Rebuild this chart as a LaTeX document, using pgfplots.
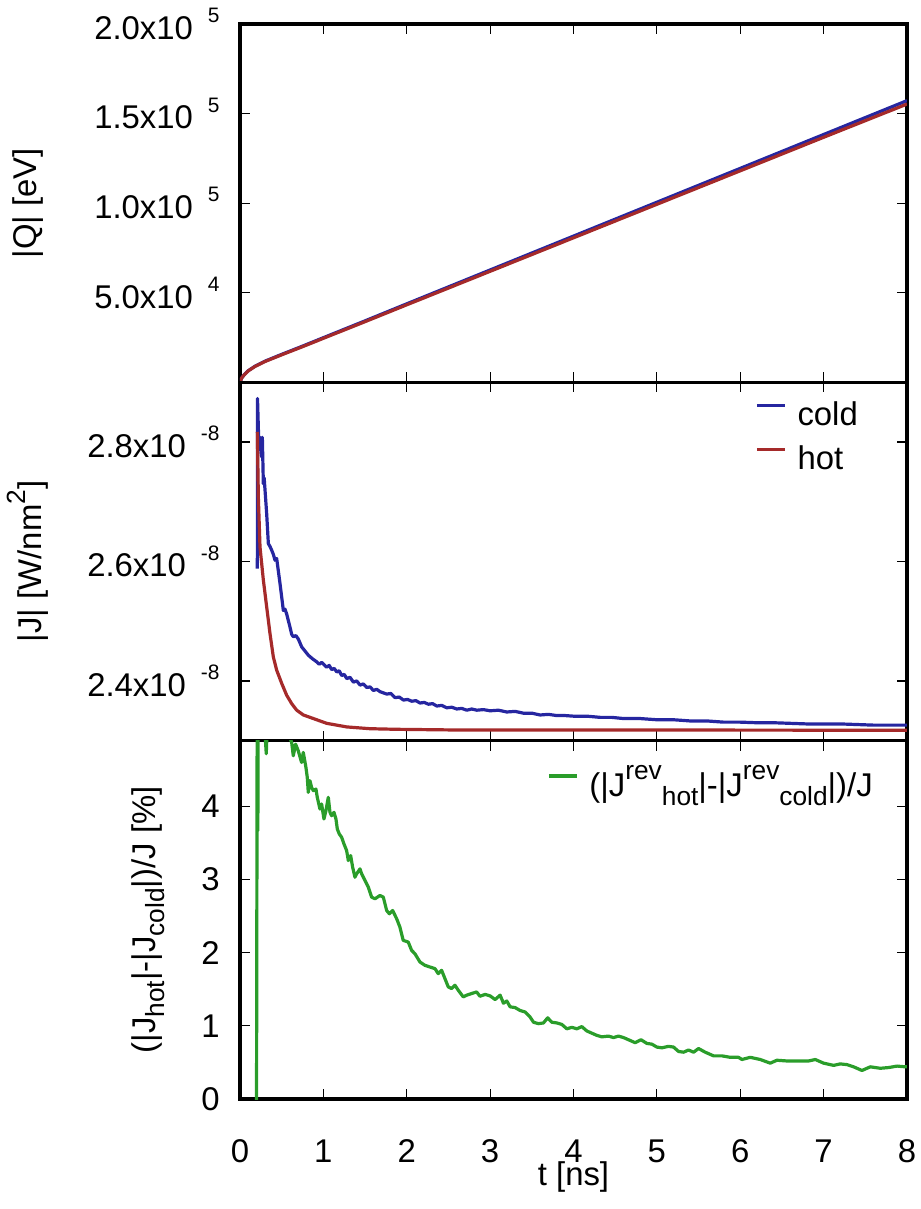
\documentclass[border=0pt]{standalone}
\usepackage{fontspec}
\setmainfont{Liberation Sans}
\usepackage{pgfplots}
\pgfplotsset{compat=1.18}

\definecolor{cCold}{HTML}{2626A0}
\definecolor{cHot}{HTML}{A52A2A}
\definecolor{cDiff}{HTML}{2A9D2A}

\newcommand{\MainFont}{\fontsize{16.5}{20}\selectfont}
% gnuplot-like "2.0x10 5" tick labels
\newcommand{\sci}[2]{#1x10\hspace{7.5bp}\raisebox{8.3bp}{\fontsize{10.5}{12}\selectfont #2}}
\newcommand{\Sup}[1]{\raisebox{8.3bp}{\fontsize{13.2}{14}\selectfont #1}}
\newcommand{\Sub}[1]{\raisebox{-4.5bp}{\fontsize{13.2}{14}\selectfont #1}}

\pgfplotsset{
  panel/.style={
    scale only axis, width=333.5bp, height=179.17bp,
    xmin=0, xmax=8, xtick={0,...,8},
    scaled y ticks=false,
    axis line style={line width=1.7bp},
    every tick/.style={black, line width=0.6bp},
    major tick length=5bp,
    tick label style={font=\MainFont, inner sep=0pt},
    xticklabel shift=20bp,
    yticklabel shift=10bp,
    /pgf/number format/assume math mode=true,
    every axis plot/.append style={line width=1.6bp, line join=round},
    legend cell align=left,
    legend image code/.code={\draw[##1] (0bp,5.8bp) -- (14bp,5.8bp);},
    legend style={draw=none, fill=none, inner sep=0pt, row sep=7bp,
      anchor=north west,
      nodes={inner xsep=5.5bp, inner ysep=0pt, text height=12bp,
             text depth=3bp, font=\MainFont}},
  },
}

\begin{document}
\begin{tikzpicture}
\path[use as bounding box] (-120bp,-55bp) rectangle (340.5bp,549.5bp);

% ---- top: accumulated heat -------------------------------------------
\begin{axis}[panel, at={(0,358.34bp)}, anchor=south west,
  ymin=0, ymax=2e5,
  ytick={5e4,1e5,1.5e5,2e5},
  yticklabels={\sci{5.0}{4},\sci{1.0}{5},\sci{1.5}{5},\sci{2.0}{5}},
  xticklabels={},
]
\addplot[cCold] coordinates {
 (0,0) (0.02,2400) (0.05,4200) (0.1,6500) (0.18,9000) (0.3,11800)
 (0.5,15600) (0.74,20000) (1.0,24900) (1.5,34300) (2,43800) (3,62700)
 (4,81600) (5,100500) (6,119400) (7,138300) (8,157200)};
\addplot[cHot] coordinates {
 (0,0) (0.02,2400) (0.05,4150) (0.1,6400) (0.18,8850) (0.3,11600)
 (0.5,15350) (0.74,19700) (1.0,24550) (1.5,33850) (2,43250) (3,61950)
 (4,80650) (5,99350) (6,118050) (7,136750) (8,155300)};
\end{axis}

% ---- middle: heat flux -----------------------------------------------
\begin{axis}[panel, at={(0,179.17bp)}, anchor=south west,
  ymin=2.3e-8, ymax=2.9e-8,
  ytick={2.4e-8,2.6e-8,2.8e-8},
  yticklabels={\sci{2.4}{-8},\sci{2.6}{-8},\sci{2.8}{-8}},
  xticklabels={},
  legend style={at={(axis description cs:0.772,0.947)}},
]
\addplot[cCold] coordinates {
 (0.208,2.588e-8) (0.210,2.873e-8) (0.225,2.800e-8) (0.240,2.808e-8)
 (0.250,2.790e-8) (0.260,2.775e-8) (0.268,2.808e-8) (0.280,2.730e-8)
 (0.290,2.740e-8) (0.320,2.680e-8) (0.340,2.630e-8) (0.360,2.625e-8)
 (0.380,2.619e-8) (0.400,2.612e-8) (0.420,2.602e-8) (0.440,2.605e-8)
 (0.480,2.563e-8) (0.520,2.518e-8) (0.540,2.520e-8) (0.560,2.512e-8)
 (0.600,2.490e-8) (0.620,2.478e-8) (0.640,2.474e-8) (0.670,2.476e-8)
 (0.700,2.470e-8) (0.740,2.457e-8) (0.780,2.450e-8) (0.820,2.443e-8)
 (0.870,2.437e-8) (0.920,2.432e-8) (0.950,2.428e-8) (0.980,2.431e-8)
 (1.04,2.423e-8) (1.07,2.426e-8) (1.10,2.419e-8) (1.13,2.421e-8)
 (1.16,2.415e-8) (1.19,2.417e-8) (1.22,2.409e-8) (1.25,2.411e-8)
 (1.28,2.404e-8) (1.32,2.406e-8) (1.36,2.398e-8) (1.40,2.400e-8)
 (1.44,2.393e-8) (1.48,2.395e-8) (1.52,2.389e-8) (1.56,2.390e-8)
 (1.60,2.384e-8) (1.64,2.386e-8) (1.68,2.382e-8) (1.72,2.380e-8)
 (1.76,2.378e-8) (1.81,2.379e-8) (1.86,2.372e-8) (1.91,2.373e-8)
 (1.96,2.368e-8) (2.01,2.369e-8) (2.06,2.366e-8) (2.11,2.367e-8)
 (2.16,2.363e-8) (2.21,2.364e-8) (2.26,2.361e-8) (2.31,2.362e-8)
 (2.36,2.358e-8) (2.42,2.359e-8) (2.48,2.355e-8) (2.54,2.356e-8)
 (2.60,2.353e-8) (2.66,2.354e-8) (2.72,2.351e-8) (2.78,2.353e-8)
 (2.84,2.351e-8) (2.92,2.352e-8) (3.0,2.350e-8) (3.1,2.351e-8)
 (3.2,2.348e-8) (3.3,2.349e-8) (3.4,2.346e-8) (3.5,2.346e-8)
 (3.6,2.343e-8) (3.7,2.344e-8) (3.8,2.342e-8) (3.9,2.342e-8)
 (4.0,2.341e-8) (4.16,2.341e-8) (4.32,2.339e-8) (4.46,2.339e-8)
 (4.6,2.337e-8) (4.8,2.337e-8) (5.0,2.335e-8) (5.2,2.335e-8)
 (5.4,2.333e-8) (5.6,2.333e-8) (5.8,2.331e-8) (6.0,2.331e-8)
 (6.2,2.330e-8) (6.4,2.330e-8) (6.6,2.329e-8) (6.8,2.328e-8)
 (7.0,2.328e-8) (7.2,2.328e-8) (7.4,2.327e-8) (7.6,2.326e-8)
 (7.8,2.326e-8) (8.0,2.326e-8)};
\addlegendentry{cold}
\addplot[cHot] coordinates {
 (0.208,2.817e-8) (0.220,2.708e-8) (0.240,2.624e-8) (0.280,2.569e-8)
 (0.320,2.524e-8) (0.360,2.479e-8) (0.400,2.440e-8) (0.440,2.418e-8)
 (0.500,2.396e-8) (0.560,2.376e-8) (0.620,2.362e-8) (0.680,2.351e-8)
 (0.760,2.343e-8) (0.880,2.337e-8) (1.040,2.329e-8) (1.280,2.323e-8)
 (1.560,2.320e-8) (1.880,2.319e-8) (2.500,2.318e-8) (3.500,2.318e-8)
 (5.000,2.3178e-8) (6.500,2.3176e-8) (8.000,2.3175e-8)};
\addlegendentry{hot}
\end{axis}

% ---- bottom: relative difference -------------------------------------
\begin{axis}[panel, at={(0,0)}, anchor=south west,
  ymin=0, ymax=4.9,
  ytick={0,1,2,3,4},
  legend style={at={(axis description cs:0.46,0.912)}},
]
\addplot[cDiff] coordinates {
 (0.198,-0.3) (0.207,6.0) (0.214,3.67) (0.221,6.0) (0.27,5.6) (0.30,5.0)
 (0.315,4.72) (0.33,5.2) (0.40,5.5) (0.50,5.4) (0.58,5.0)
 (0.620,4.875) (0.639,4.693) (0.667,4.852) (0.699,4.761) (0.739,4.602)
 (0.759,4.739) (0.791,4.534) (0.807,4.397) (0.819,4.193) (0.839,4.352)
 (0.859,4.261) (0.879,4.216) (0.911,4.238) (0.927,4.125) (0.959,3.965)
 (0.979,4.034) (1.007,3.829) (1.031,3.943) (1.059,4.125) (1.079,3.920)
 (1.099,3.874) (1.127,3.920) (1.151,3.829) (1.167,3.693) (1.191,3.624)
 (1.219,3.579) (1.247,3.488) (1.279,3.397) (1.299,3.261) (1.327,3.329)
 (1.351,3.170) (1.379,3.033) (1.399,3.079) (1.439,3.147) (1.459,3.079)
 (1.499,2.988) (1.539,2.897) (1.579,2.760) (1.619,2.738) (1.679,2.783)
 (1.719,2.760) (1.759,2.578) (1.791,2.533) (1.831,2.578) (1.879,2.465)
 (1.918,2.351) (1.958,2.169) (2.018,2.146) (2.058,2.033) (2.098,1.987)
 (2.158,1.874) (2.218,1.828) (2.278,1.805) (2.338,1.783) (2.378,1.714)
 (2.418,1.760) (2.458,1.646) (2.498,1.533) (2.538,1.510) (2.578,1.555)
 (2.618,1.487) (2.678,1.396) (2.718,1.419) (2.778,1.442) (2.838,1.464)
 (2.878,1.405) (2.94,1.43) (3.00,1.41) (3.06,1.36) (3.12,1.42) (3.16,1.31)
 (3.20,1.34) (3.24,1.26) (3.30,1.25) (3.36,1.21) (3.42,1.19) (3.48,1.12)
 (3.52,1.05) (3.58,1.03) (3.64,1.04) (3.69,1.11) (3.74,1.05) (3.80,1.04)
 (3.86,1.02) (3.92,0.96) (3.98,0.98) (4.04,0.96) (4.10,0.99) (4.16,0.93)
 (4.22,0.90) (4.28,0.87) (4.34,0.85) (4.42,0.86) (4.48,0.84) (4.54,0.86)
 (4.60,0.84) (4.68,0.80) (4.74,0.77) (4.81,0.81) (4.88,0.76) (4.94,0.75)
 (5.00,0.71) (5.06,0.70) (5.14,0.72) (5.20,0.71) (5.26,0.65) (5.32,0.64)
 (5.38,0.67) (5.44,0.64) (5.50,0.69) (5.58,0.64) (5.68,0.59) (5.78,0.59)
 (5.88,0.57) (5.98,0.57) (6.02,0.54) (6.12,0.57) (6.24,0.54) (6.36,0.49)
 (6.44,0.53) (6.56,0.52) (6.68,0.52) (6.82,0.52) (6.90,0.54) (7.00,0.49)
 (7.12,0.46) (7.20,0.48) (7.28,0.47) (7.36,0.44) (7.46,0.39) (7.56,0.44)
 (7.68,0.42) (7.78,0.43) (7.88,0.45) (7.98,0.44) (8.00,0.44)};
\addlegendentry{(|J\Sup{rev}\Sub{hot}|-|J\Sup{rev}\Sub{cold}|)/J}
\end{axis}

% axis labels
\node[rotate=90, anchor=base, font=\MainFont] at (-101.5bp,447.9bp) {|Q| [eV]};
\node[rotate=90, anchor=base, font=\MainFont] at (-99bp,268.75bp) {|J| [W/nm\Sup{2}]};
\node[rotate=90, anchor=base, font=\MainFont] at (-42bp,89.6bp)
  {(|J\Sub{hot}|-|J\Sub{cold}|)/J [\%]};
\node[anchor=base, font=\MainFont] at (166.75bp,-43bp) {t [ns]};
\end{tikzpicture}
\end{document}
